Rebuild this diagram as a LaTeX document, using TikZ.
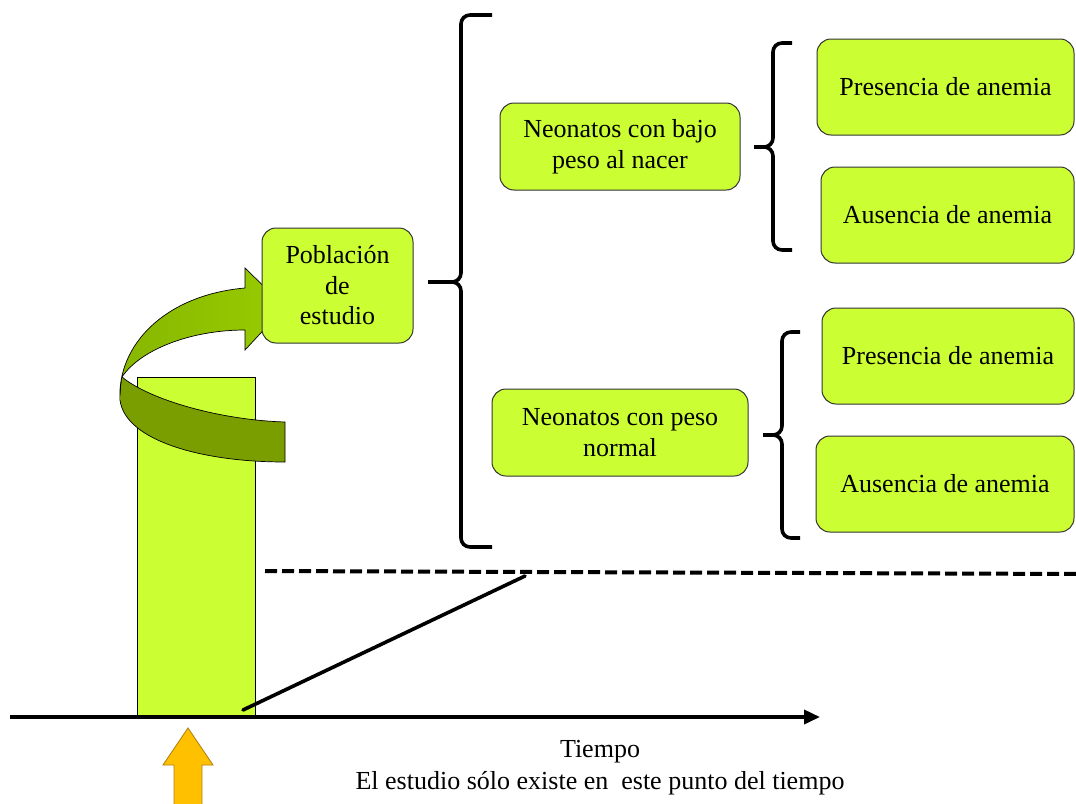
\documentclass[tikz,border=0pt]{standalone}
\usepackage{fontspec}
\setmainfont{Liberation Serif}
\usetikzlibrary{arrows.meta}
\definecolor{boxgreen}{RGB}{204,255,51}
\definecolor{arrowlight}{RGB}{153,204,0}
\definecolor{arrowlightL}{RGB}{135,182,0}
\definecolor{arrowdark}{RGB}{122,158,0}
\definecolor{orangefill}{RGB}{255,192,0}
\definecolor{orangeline}{RGB}{180,130,20}
\begin{document}
\begin{tikzpicture}[x=1pt,y=-1pt,
  box/.style={draw=black!80, line width=1pt, fill=boxgreen, rounded corners=14pt, align=center, font=\fontsize{26}{30.5}\selectfont, inner sep=0pt},
  bracepath/.style={line width=3.6pt, rounded corners=9pt},
  txt/.style={font=\fontsize{26}{30.5}\selectfont, inner sep=0pt},
  thickline/.style={line width=3.6pt}]
\clip (0,0) rectangle (1076,803);
\fill[white] (0,0) rectangle (1076,803);

% bar
\node[draw=black, line width=1pt, fill=boxgreen, minimum width=118pt, minimum height=338pt, inner sep=0pt] (bar) at (196,546) {};

% curved arrow (upper light part)
\draw[left color=arrowlightL, right color=arrowlight, draw=black, line width=0.7pt]
  (120,400) .. controls (117,345) and (165,295) .. (245,288) -- (245,268) -- (285,307) -- (245,350) -- (245,330)
  .. controls (190,330) and (140,350) .. (122,377) -- cycle;
% curved arrow (lower dark part)
\fill[arrowdark] (122,377) .. controls (150,400) and (220,420) .. (285,422) -- (285,462)
  .. controls (200,462) and (125,440) .. (120,400) -- cycle;
\draw[line width=0.7pt] (122,377) .. controls (150,400) and (220,420) .. (285,422) -- (285,462)
  .. controls (200,462) and (125,440) .. (120,400);

% boxes
\node[box, minimum width=151pt, minimum height=115pt] (pop) at (337.5,285.5) {Población\\de\\estudio};
\node[box, minimum width=240pt, minimum height=87pt] (bajo) at (620,146.5) {Neonatos con bajo\\peso al nacer};
\node[box, minimum width=256pt, minimum height=87pt] (normal) at (620,432.5) {Neonatos con peso\\normal};
\node[box, minimum width=257pt, minimum height=96pt] (pres1) at (945.5,87) {Presencia de anemia};
\node[box, minimum width=253pt, minimum height=96pt] (aus1) at (947.5,215) {Ausencia de anemia};
\node[box, minimum width=252pt, minimum height=96pt] (pres2) at (948,356) {Presencia de anemia};
\node[box, minimum width=258pt, minimum height=96pt] (aus2) at (945,484) {Ausencia de anemia};

% braces
\draw[bracepath] (492,15) -- (461,15) -- (461,282) -- (428,282);
\draw[bracepath] (492,547) -- (461,547) -- (461,282) -- (428,282);
\draw[bracepath] (792,43) -- (773,43) -- (773,147) -- (754,147);
\draw[bracepath] (792,250) -- (773,250) -- (773,147) -- (754,147);
\draw[bracepath] (800,332) -- (782,332) -- (782,435) -- (763,435);
\draw[bracepath] (800,538) -- (782,538) -- (782,435) -- (763,435);

% dashed and solid lines
\coordinate (d0) at (265,571);
\coordinate (d1) at (1080,574);
\coordinate (s0) at (243,710);
\coordinate (s1) at (525,576);
\draw[line width=4pt, dash pattern=on 12pt off 5pt] (d0) -- (d1);
\draw[thickline, line cap=round] (s0) -- (s1);

% time axis
\coordinate (t0) at (10,717);
\coordinate (t1) at (820,717);
\draw[thickline, -{Triangle[length=16pt,width=14pt]}] (t0) -- (t1);

% orange arrow
\draw[fill=orangefill, draw=orangeline, line width=0.9pt]
  (188,728) -- (213,765) -- (202,765) -- (202,815) -- (174,815) -- (174,765) -- (163,765) -- cycle;

% texts
\node[txt] (tiempo) at (600,752) {Tiempo};
\node[txt] (nota) at (600,783) {El estudio sólo existe en\ \ este punto del tiempo};
\end{tikzpicture}
\end{document}
